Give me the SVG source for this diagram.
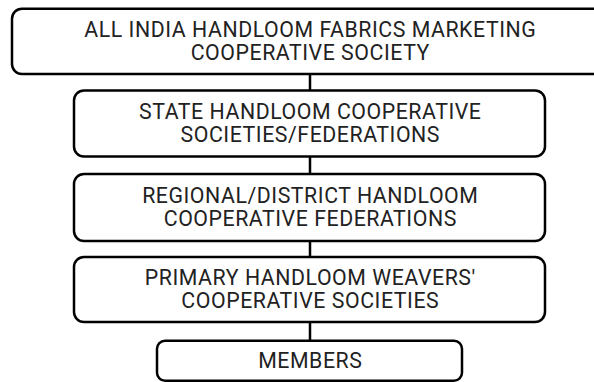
<svg xmlns="http://www.w3.org/2000/svg" width="594" height="382" viewBox="0 0 594 382">
<style>
.box{fill:#fff;stroke:#000;stroke-width:2.5}
.t{font-family:Roboto,"Liberation Sans",sans-serif;font-size:21.3px;letter-spacing:0.55px;fill:#222;text-anchor:middle}
.c{stroke:#000;stroke-width:2.5;fill:none}
</style>
<rect width="594" height="382" fill="#fff"/>
<g id="connectors">
<line class="c" x1="310" y1="74" x2="310" y2="91"/>
<line class="c" x1="310" y1="156" x2="310" y2="174"/>
<line class="c" x1="310" y1="241" x2="310" y2="257"/>
<line class="c" x1="310" y1="322" x2="310" y2="341"/>
</g>
<g id="n1">
<rect class="box" x="12" y="8.7" width="595" height="65.3" rx="10"/>
<text class="t" x="310.3" y="37">ALL INDIA HANDLOOM FABRICS MARKETING</text>
<text class="t" x="310.3" y="60">COOPERATIVE SOCIETY</text>
</g>
<g id="n2">
<rect class="box" x="74" y="90.5" width="471" height="66" rx="10"/>
<text class="t" x="310.3" y="118.8">STATE HANDLOOM COOPERATIVE</text>
<text class="t" x="310.3" y="141.8">SOCIETIES/FEDERATIONS</text>
</g>
<g id="n3">
<rect class="box" x="74" y="174" width="471" height="67" rx="10"/>
<text class="t" x="310.3" y="203">REGIONAL/DISTRICT HANDLOOM</text>
<text class="t" x="310.3" y="226">COOPERATIVE FEDERATIONS</text>
</g>
<g id="n4">
<rect class="box" x="74" y="257" width="471" height="65" rx="10"/>
<text class="t" x="310.3" y="285">PRIMARY HANDLOOM WEAVERS'</text>
<text class="t" x="310.3" y="308">COOPERATIVE SOCIETIES</text>
</g>
<g id="n5">
<rect class="box" x="157" y="340.7" width="305" height="40" rx="8"/>
<text class="t" x="310.3" y="368.2">MEMBERS</text>
</g>
</svg>
